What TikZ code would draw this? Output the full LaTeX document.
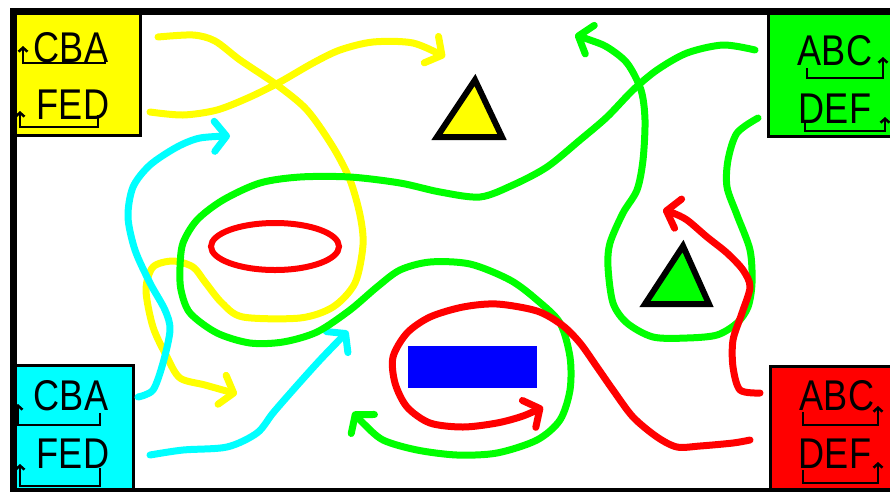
\documentclass[tikz,border=0pt]{standalone}
\usepackage{fontspec}
\usetikzlibrary{arrows.meta}
\newfontfamily\boxfont[FakeStretch=0.84]{Liberation Sans}
\definecolor{yel}{RGB}{255,255,0}
\definecolor{grn}{RGB}{0,255,0}
\definecolor{cyn}{RGB}{0,255,255}
\definecolor{rd}{RGB}{255,0,0}
\definecolor{blu}{RGB}{0,0,255}
\tikzset{
  pen/.style={line width=7pt, line cap=round, line join=round,
    -{Straight Barb[length=12pt,width=30pt,round]}},
  box/.style={draw=black, line width=3pt},
  word/.style={font=\boxfont\fontsize{43}{43}\selectfont, inner sep=0pt, anchor=base},
  hook/.style={line width=2.5pt, -{Straight Barb[length=4pt,width=9pt]}},
}
\begin{document}
\begin{tikzpicture}[x=1pt,y=-1pt]
  \useasboundingbox (0,0) rectangle (890,491);
  \clip (0,0) rectangle (890,491);
  % 四隅の箱
  \draw[box,fill=yel] (13,11) rectangle (140.5,135.5);
  \draw[box,fill=grn] (768.5,11) rectangle (900,136.5);
  \draw[box,fill=cyn] (13,365) rectangle (133.5,495);
  \draw[box,fill=rd] (770.5,366.5) rectangle (900,495);
  % 枠
  \draw[line width=7pt] (13,11.5) rectangle (900,491.5);
  % 文字
  \node[word] (yCBA) at (71,62) {CBA};
  \node[word] (yFED) at (73,119) {FED};
  \node[word] (gABC) at (835,65) {ABC};
  \node[word] (gDEF) at (835,123) {DEF};
  \node[word] (cCBA) at (71,410) {CBA};
  \node[word] (cFED) at (73,468) {FED};
  \node[word] (rABC) at (837,410) {ABC};
  \node[word] (rDEF) at (835,468) {DEF};
  % 読む向き
  \draw[hook] (105,57) -- (105,63) -- (23,63) -- (23,46);
  \draw[hook] (98,115) -- (98,127) -- (20,127) -- (20,111);
  \draw[hook] (807,68) -- (807,78) -- (883,78) -- (883,57);
  \draw[hook] (805,120) -- (805,131) -- (885,131) -- (885,117);
  \draw[hook] (100,413) -- (100,425) -- (18,425) -- (18,404);
  \draw[hook] (100,468) -- (100,486) -- (20,486) -- (20,464);
  \draw[hook] (803,412) -- (803,425) -- (878,425) -- (878,406);
  \draw[hook] (803,470) -- (803,483) -- (878,483) -- (878,462);
  % 図形
  \draw[line width=6pt, fill=yel] (475,80) -- (437,137) -- (502,137) -- cycle;
  \draw[line width=6pt, fill=grn] (683,246) -- (645,304) -- (709,304) -- cycle;
  \fill[blu] (408,346) rectangle (537,388);
  \draw[rd, line width=6pt] (275,246.5) ellipse [x radius=64, y radius=23.5];
  % 黄色の線
  \draw[pen, yel] plot[smooth] coordinates {(158,37) (193,35) (215,41) (240,60)
    (277,85) (307,110) (333,147) (350,180) (360,215) (363,245) (355,283) (333,307)
    (300,318) (243,317) (222,303) (205,282) (193,267) (173,261) (153,267) (146,290)
    (153,327) (167,357) (180,378) (205,385) (237,394)};
  \draw[pen, yel] plot[smooth] coordinates {(150,112) (183,115) (217,110) (250,97)
    (280,82) (313,63) (340,50) (373,42) (413,43) (445,57)};
  % 水色の線
  \draw[pen, cyn] plot[smooth] coordinates {(138,397) (153,390) (163,363) (170,330)
    (165,310) (150,283) (135,250) (128,217) (133,187) (150,165) (177,147) (200,138)
    (230,136)};
  \draw[pen, cyn] plot[smooth] coordinates {(150,455) (183,450) (227,447) (257,433)
    (273,413) (293,390) (320,360) (348,331)};
  % 緑の線
  \draw[pen, grn] plot[smooth] coordinates {(755,50) (723,45) (687,53) (657,70)
    (633,90) (607,117) (580,140) (547,167) (513,185) (480,197) (440,192) (400,183)
    (350,177) (300,177) (260,183) (223,200) (197,220) (183,243) (180,267) (181,290)
    (190,313) (217,333) (250,343) (283,342) (317,332) (350,310) (377,287) (400,270)
    (430,262) (470,264) (510,280) (537,300) (560,323) (570,357) (570,390) (560,420)
    (537,440) (497,453) (457,455) (417,450) (383,440) (363,423) (353,412)};
  \draw[pen, grn] plot[smooth] coordinates {(758,118) (737,133) (728,160) (727,187)
    (737,215) (750,250) (752,283) (748,307) (737,323) (717,335) (687,338) (653,337)
    (627,323) (613,303) (608,267) (610,243) (623,213) (637,190) (643,160) (645,120)
    (641,90) (627,63) (607,47) (590,40) (575,35)};
  % 赤の線
  \draw[pen, rd] plot[smooth] coordinates {(760,393) (740,390) (733,367) (733,340)
    (742,313) (750,287) (743,270) (727,253) (707,237) (687,220) (673,213) (663,210)};
  \draw[pen, rd] plot[smooth] coordinates {(750,440) (733,443) (700,446) (677,447)
    (657,437) (633,417) (613,390) (597,367) (580,343) (562,325) (537,311) (497,304)
    (463,307) (430,317) (407,333) (393,357) (395,383) (407,407) (430,423) (463,427)
    (497,423) (523,416) (543,407)};
\end{tikzpicture}
\end{document}
